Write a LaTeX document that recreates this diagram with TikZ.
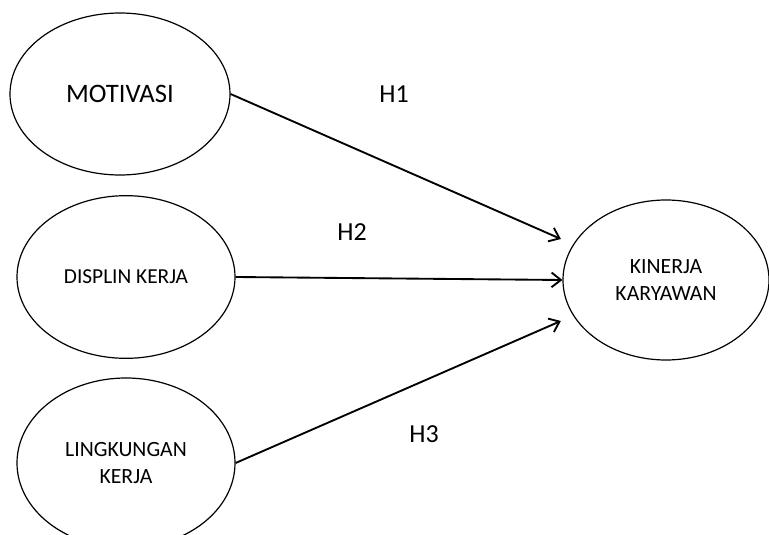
\documentclass[tikz,border=0pt]{standalone}
\usepackage{fontspec}
\setmainfont{Carlito}
\usetikzlibrary{arrows.meta,positioning,shapes.geometric}

\begin{document}
\begin{tikzpicture}[
  x=0.75pt, y=-0.75pt,
  >={Straight Barb[length=7pt,width=11pt]},
  varbox/.style={ellipse, draw, line width=0.9pt, inner sep=0pt,
    align=center, font=\fontsize{16.3}{20}\selectfont},
  arr/.style={->, line width=1.4pt},
  hyp/.style={font=\fontsize{19.5}{23}\selectfont},
]
\useasboundingbox (0,0) rectangle (769,535);

% Variables
\node[varbox, minimum width=165pt, minimum height=121.5pt,
  font=\fontsize{20}{24}\selectfont] (mot) at (120,94) {MOTIVASI};
\node[varbox, minimum width=163.5pt, minimum height=122pt,
  font=\fontsize{16}{20}\selectfont] (dis) at (126,277) {DISPLIN KERJA};
\node[varbox, minimum width=163.5pt, minimum height=127.5pt] (lin) at (126,463) {LINGKUNGAN\\KERJA};
\node[varbox, minimum width=154.5pt, minimum height=120pt] (kin) at (666,280) {KINERJA\\KARYAWAN};

% Hypotheses
\draw[arr, shorten >=10pt] (mot.east) -- (kin.159);
\draw[arr] (dis.east) -- (kin.west);
\draw[arr, shorten >=10pt] (lin.east) -- (kin.201);

% Labels
\node[hyp] (h1) at (394,94) {H1};
\node[hyp] (h2) at (352,232) {H2};
\node[hyp] (h3) at (424,434) {H3};

\end{tikzpicture}
\end{document}
